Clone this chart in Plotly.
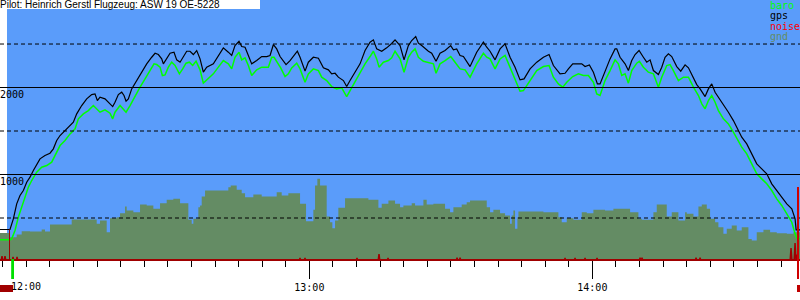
import pandas as pd
import plotly.graph_objects as go

BASE = pd.Timestamp("2000-01-01 12:00:00")

# ---------------- data (minutes after 12:00, metres) ----------------
gps_t = [-5.58, -3.46, -2.75, -2.04, -1.34, -0.63, 0.08, 0.78, 1.49, 2.20, 2.90, 3.96, 5.02, 5.73, 6.44, 7.15,
         8.20, 9.27, 9.97, 10.68, 11.74, 12.80, 13.86, 14.56, 15.06, 15.62, 16.68, 17.74, 18.31, 18.80, 19.51,
         20.22, 20.71, 21.14, 21.63, 22.34, 23.40, 24.46, 25.52, 26.58, 27.29, 27.99, 28.70, 29.05, 29.76, 30.47,
         31.31, 31.88, 32.59, 33.29, 34.00, 34.70, 35.41, 36.12, 36.83,
         37.53, 38.24, 39.65, 40.71, 41.77, 42.83, 43.54, 44.24, 45.09, 45.66, 46.37, 47.07, 47.78, 48.84, 49.90,
         50.96, 51.67, 52.38, 53.08, 53.79, 55.06, 55.91, 56.76, 57.46, 58.03, 59.09, 59.79, 60.85, 61.92, 62.41,
         62.98, 64.04, 64.74, 65.45, 66.15, 67.22, 67.92, 68.63, 69.69, 70.75, 71.81, 72.87, 73.58, 74.28, 75.34,
         76.40, 77.46, 78.17, 79.23,
         80.08, 80.99, 81.70, 82.55, 83.12, 83.82, 84.53, 85.24, 85.94, 86.86, 87.71, 88.77, 89.97, 90.54, 91.24,
         91.95, 92.66, 94.07, 95.48, 96.90, 97.61, 98.31, 99.37, 100.43, 101.49, 102.55, 103.61, 104.67, 105.52,
         106.79, 108.21, 109.62, 110.82, 111.74, 113.15, 114.21, 114.92, 115.84, 116.69, 117.75, 118.45, 119.37,
         120.22, 121.07, 121.63,
         122.69, 123.75, 124.81, 125.17, 125.87, 126.93, 127.64, 128.35, 129.06, 129.90, 130.82, 131.53, 132.24,
         132.94, 134.00, 134.71, 135.41, 136.12, 136.83, 137.89, 138.74, 139.66, 140.37, 141.43, 142.13, 142.84,
         143.90, 144.60, 145.31, 146.02, 146.72, 147.78, 148.84, 149.90, 150.96, 151.67, 152.73, 153.79, 154.85,
         155.91, 156.97, 158.03, 159.09, 160.15, 161.22, 162.28, 162.98, 163.20, 164.04]
gps_alt = [368, 368, 490, 663, 759, 816, 912, 969, 1046, 1122, 1180, 1218, 1245, 1295, 1391, 1448,
           1506, 1563, 1601, 1697, 1793, 1870, 1919, 1927, 1850, 1889, 1870, 1812, 1781, 1831, 1919,
           1946, 1908, 1843, 1870, 1984, 2080, 2176, 2272, 2348, 2394, 2379, 2329, 2272, 2329, 2394,
           2406, 2318, 2291, 2356, 2417, 2417, 2379, 2425, 2329,
           2176, 2233, 2272, 2368, 2456, 2406, 2368, 2482, 2532, 2471, 2463, 2368, 2272, 2310, 2356,
           2356, 2368, 2494, 2444, 2356, 2264, 2310, 2368, 2417, 2348, 2188, 2291, 2348, 2337, 2291,
           2226, 2203, 2157, 2164, 2119, 2080, 2011, 2080, 2176, 2272, 2425, 2521, 2548, 2444, 2417,
           2456, 2506, 2548, 2482,
           2318, 2482, 2540, 2586, 2509, 2482, 2444, 2417, 2394, 2302, 2394, 2425, 2482, 2433, 2444,
           2368, 2356, 2241, 2406, 2521, 2463, 2417, 2318, 2444, 2502, 2348, 2234, 2088, 2099,
           2214, 2291, 2348, 2379, 2253, 2157, 2164, 2214, 2272, 2272, 2272, 2241, 2260,
           2176, 2042, 2042,
           2195, 2329, 2444, 2444, 2348, 2272, 2195, 2310, 2379, 2425, 2348, 2291, 2318,
           2195, 2149, 2234, 2348, 2387, 2356, 2241, 2188, 2260, 2226, 2119, 2034, 1984,
           1896, 1984, 2042, 1946, 1889, 1812, 1716, 1620, 1506, 1429, 1352, 1237, 1122,
           1065, 1008, 893, 816, 739, 663, 605, 490, 364, 364]

baro_t = [-5.58, -3.46, -3.10, -2.40, -1.69, -0.98, -0.28, 0.43, 1.14, 2.20, 3.26, 4.32, 5.38, 6.08, 7.15, 8.20,
          9.27, 10.33, 11.03, 12.09, 13.15, 14.21, 14.92, 15.62, 16.68, 17.74, 18.31, 18.80, 19.87, 20.71, 21.14,
          21.99, 23.05, 24.11, 25.17, 26.23, 27.07, 27.64, 28.35, 28.84, 29.41, 30.11, 30.82, 31.53, 32.45, 33.15,
          33.86, 34.56, 35.27, 35.98, 36.83,
          37.53, 38.59, 39.65, 40.71, 41.77, 42.83, 43.54, 44.24, 45.09, 45.66, 46.37, 47.07, 47.78, 48.84, 49.90,
          51.31, 52.02, 52.52, 53.22, 53.93, 54.85, 55.55, 56.26, 57.32, 58.03, 59.09, 59.79, 60.85, 61.92, 62.62,
          63.68, 64.74, 65.80, 66.86, 67.92, 68.63, 69.69, 70.75, 71.81, 72.87, 73.58, 74.28, 74.78, 75.70, 76.76,
          77.46, 78.17, 79.23,
          80.08, 80.99, 81.70, 82.41, 83.12, 84.18, 85.24, 86.30, 86.86, 87.71, 88.77, 89.97, 90.89, 91.95, 93.01,
          94.07, 95.48, 96.90, 97.61, 98.31, 99.37, 100.43, 101.49, 102.55, 103.61, 104.67, 105.38, 106.79, 108.21,
          109.62, 110.82, 111.74, 112.80, 113.72, 114.57, 115.84, 117.04, 118.10, 119.16, 120.22, 120.93, 121.63,
          122.69, 123.75, 124.81, 125.52, 126.23, 126.93, 127.64, 128.35, 129.41, 129.97, 130.82, 131.88, 132.94,
          134.00, 134.71, 135.77, 136.47, 137.18, 138.24, 139.30, 140.37, 141.43, 142.49, 143.20, 143.90, 144.60,
          145.31, 146.02, 146.72, 147.78, 148.84, 149.90, 150.96, 151.67, 152.73, 153.79, 154.85, 155.91, 156.97,
          158.03, 159.09, 160.15, 161.22, 162.28, 162.98, 163.48, 164.04]
baro_alt = [249, 249, 260, 356, 510, 624, 739, 854, 931, 1027, 1084, 1103, 1142, 1218, 1333, 1391,
            1467, 1525, 1640, 1697, 1735, 1793, 1755, 1716, 1743, 1705, 1640, 1716, 1793, 1735, 1716,
            1793, 1908, 2004, 2099, 2203, 2272, 2264, 2234, 2138, 2145, 2234, 2291, 2253, 2157, 2214,
            2280, 2291, 2253, 2302, 2203,
            2050, 2099, 2157, 2234, 2310, 2272, 2214, 2348, 2406, 2318, 2341, 2253, 2138, 2203, 2234,
            2234, 2348, 2348, 2291, 2226, 2126, 2157, 2226, 2280, 2214, 2061, 2157, 2214, 2195, 2119,
            2080, 2011, 1984, 1996, 1896, 1965, 2061, 2157, 2272, 2356, 2417, 2329, 2234, 2291, 2310,
            2341, 2417, 2329,
            2176, 2348, 2406, 2444, 2348, 2302, 2291, 2272, 2164, 2272, 2310, 2356, 2291, 2214, 2203,
            2119, 2272, 2394, 2348, 2329, 2214, 2329, 2368, 2234, 2080, 1958, 1965, 2080, 2195,
            2241, 2253, 2119, 2042, 2004, 2061, 2126, 2157, 2138, 2138, 2061, 1927, 1908,
            2080, 2195, 2318, 2272, 2138, 2157, 2050, 2195, 2280, 2302, 2234, 2176, 2157,
            2004, 2119, 2253, 2264, 2195, 2080, 2119, 2119, 2004, 1908, 1812, 1755, 1850,
            1908, 1831, 1735, 1640, 1582, 1487, 1391, 1314, 1237, 1122, 1008, 950, 893,
            816, 720, 644, 548, 452, 318, 260, 260]

gnd_t = [-5.58, -3.60, -2.04, -0.98, 0.78, 3.26, 3.96, 5.02, 9.62, 14.92, 15.62, 17.04, 17.74, 19.16, 19.87,
         20.93, 21.28, 22.69, 24.11, 25.52, 26.93, 28.35, 29.76, 31.17, 32.59, 34.35, 35.06, 35.41, 36.47,
         36.83, 37.18, 37.89, 42.83, 43.33, 44.60, 45.66, 46.37, 48.13, 49.90, 53.08, 54.14, 55.55, 58.03,
         59.30, 60.85, 61.21, 61.70, 62.27, 63.68, 64.39, 64.88, 65.45, 66.15, 67.57, 72.52, 74.64, 75.34,
         76.76, 78.17,
         79.23, 79.94, 81.70, 82.41, 84.18, 84.88, 86.30, 88.77, 89.83, 90.54, 92.30, 93.36, 94.07, 97.61,
         98.31, 99.02, 100.43, 101.49, 102.55, 102.91, 103.26, 103.61, 104.11, 104.32, 109.62, 112.80,
         113.51, 114.57, 115.98, 117.75, 118.81, 120.22,
         121.63, 122.69, 124.46, 128.00, 129.76, 130.47, 132.94, 133.65, 135.77, 136.83, 138.24, 139.66,
         140.01, 141.43, 142.49, 143.20, 144.26, 144.96, 146.02, 146.72, 147.78, 148.49, 149.55, 150.61,
         151.67, 153.08, 153.79, 154.85, 156.27, 157.68, 159.09, 161.22, 162.63, 164.04]
gnd_alt = [329, 280, 310, 349, 345, 368, 345, 425, 483, 433, 471, 337, 498, 510, 555,
           632, 586, 567, 655, 644, 605, 670, 709, 720, 670, 479, 433, 490, 624,
           644, 747, 816, 854, 873, 824, 785, 739, 770, 747, 797, 759, 785, 663,
           464, 594, 873, 950, 873, 517, 452, 383, 471, 617, 728, 709, 617, 663,
           701, 663,
           624, 644, 670, 644, 709, 655, 663, 605, 567, 624, 655, 682, 701, 624,
           567, 594, 555, 529, 433, 529, 586, 375, 510, 575, 567, 510,
           452, 498, 479, 567, 555, 594,
           594, 586, 605, 567, 490, 479, 567, 655, 517, 567, 471, 567,
           548, 517, 632, 655, 605, 490, 452, 395, 318, 375, 414, 356,
           395, 260, 241, 337, 364, 337, 326, 318, 337, 337]

noise_t = [-5.58, -5.35, -5.15, -4.95, -4.72, -4.52, -4.32, -3.02, -2.82, -2.62, -2.17, -1.97, -1.77,
           57.82, 58.02, 58.22, 58.88, 59.08, 59.28, 69.90, 70.10, 70.30, 74.57, 74.77, 74.97, 76.48, 76.68, 76.88,
           91.11, 91.31, 91.51, 91.75, 91.95, 92.15, 114.01, 114.21, 114.41, 116.13, 116.33, 116.53,
           118.25, 118.45, 118.65, 120.79, 120.99, 121.19, 129.91, 130.11, 130.31, 130.53, 130.73,
           141.78, 141.98, 142.18, 142.63, 142.83, 143.03, 161.92, 162.12, 162.32, 162.77, 162.97,
           163.17, 163.28, 163.48, 164.04]
noise_v = [0, 0, 63, 0, 0, 63, 0, 0, 52, 0, 0, 52, 0,
           0, 40, 0, 0, 40, 0, 0, 40, 0, 0, 86, 0, 0, 40, 0,
           0, 45, 0, 0, 45, 0, 0, 40, 0, 0, 40, 0,
           0, 40, 0, 0, 40, 0, 0, 45, 0, 45, 0,
           0, 45, 0, 0, 45, 0, 0, 155, 0, 0, 213,
           0, 80, 0, 0]

takeoff_t = -3.56
landing_t = 163.6
hour_labels = ["12:00", "13:00", "14:00"]
hour_mins = [0, 60, 120]
alt_labels = ["1000", "2000"]
alt_label_vals = [1000, 2000]
solid_levels = [1000, 2000]
dashed_levels = [500, 1500, 2500]
legend_names = ["baro", "gps", "noise", "gnd"]
title_text = "Pilot: Heinrich Gerstl Flugzeug: ASW 19 OE-5228"

# ---------------- styling ----------------
BLUE = "#5a9cfa"
GND = "#648c64"
MONO = "DejaVu Sans Mono"
W, H = 800, 300
PLOT_H = 259


def T(mins):
    return [BASE + pd.Timedelta(minutes=m) for m in mins]


fig = go.Figure()
fig.add_trace(go.Scatter(x=T(gnd_t), y=gnd_alt, mode="lines", line=dict(shape="hv", width=0, color=GND),
                         fill="tozeroy", fillcolor=GND, name="gnd"))
fig.add_trace(go.Scatter(x=T(noise_t), y=noise_v, mode="lines", line=dict(width=1.5, color="#a00000"),
                         name="noise"))
fig.add_trace(go.Scatter(x=T(baro_t), y=baro_alt, mode="lines", line=dict(width=1.5, color="#00ff00"),
                         name="baro"))
fig.add_trace(go.Scatter(x=T(gps_t), y=gps_alt, mode="lines", line=dict(width=1.2, color="#000000"),
                         name="gps"))

shapes = []
# white left strip and title band (below data)
shapes.append(dict(type="rect", xref="paper", yref="paper", x0=0, x1=7 / W, y0=0, y1=1,
                   fillcolor="white", line_width=0, layer="below"))
shapes.append(dict(type="rect", xref="paper", yref="paper", x0=0, x1=260 / W, y0=1 - 9 / PLOT_H, y1=1,
                   fillcolor="white", line_width=0, layer="below"))
for lv in solid_levels:
    shapes.append(dict(type="line", xref="paper", yref="y", x0=0, x1=1, y0=lv, y1=lv,
                       line=dict(color="black", width=1)))
for lv in dashed_levels:
    shapes.append(dict(type="line", xref="paper", yref="y", x0=0, x1=1, y0=lv, y1=lv,
                       line=dict(color="black", width=1, dash="4px,3px")))
# takeoff / landing markers
to = T([takeoff_t])[0]
ld = T([landing_t])[0]
shapes.append(dict(type="line", xref="x", yref="y", x0=to, x1=to, y0=gps_alt[0], y1=0,
                   line=dict(color="#a00000", width=1)))
shapes.append(dict(type="rect", xref="x", yref="paper", x0=T([takeoff_t + 0.35])[0], x1=T([takeoff_t + 0.95])[0],
                   y0=0, y1=-20 / PLOT_H, fillcolor="#00e000", line_width=0))
shapes.append(dict(type="rect", xref="paper", yref="paper", x0=0, x1=13 / W, y0=-26 / PLOT_H, y1=-33 / PLOT_H,
                   fillcolor="#a00000", line_width=0))
shapes.append(dict(type="line", xref="x", yref="paper", x0=ld, x1=ld, y0=1 - 187 / PLOT_H, y1=-20 / PLOT_H,
                   line=dict(color="#d00000", width=2)))
shapes.append(dict(type="rect", xref="paper", yref="paper", x0=797 / W, x1=1, y0=-26 / PLOT_H, y1=-33 / PLOT_H,
                   fillcolor="#c00000", line_width=0))

annotations = []
annotations.append(dict(text=title_text, xref="paper", yref="paper", x=0, y=1, xanchor="left", yanchor="top",
                        showarrow=False, xshift=-2, yshift=3,
                        font=dict(family="Liberation Sans", size=10, color="black")))
for lab, v in zip(alt_labels, alt_label_vals):
    annotations.append(dict(text=lab, xref="paper", yref="y", x=0, y=v, xanchor="left", yanchor="top",
                            showarrow=False, xshift=-2, yshift=1,
                            font=dict(family=MONO, size=10, color="black")))
legend_colors = ["#00ff00", "#000000", "#ff0000", GND]
legend_centers = [5.5, 16, 26.5, 37]
for name, col, cy in zip(legend_names, legend_colors, legend_centers):
    annotations.append(dict(text=name, xref="paper", yref="paper", x=768 / W, y=1 - cy / PLOT_H,
                            xanchor="left", yanchor="middle", showarrow=False,
                            font=dict(family=MONO, size=10, color=col)))
annotations.append(dict(text=hour_labels[0], xref="x", yref="paper", x=T([hour_mins[0]])[0], y=-27.5 / PLOT_H,
                        xanchor="center", yanchor="middle", showarrow=False,
                        font=dict(family=MONO, size=10, color="black")))

fig.update_layout(
    width=W, height=H,
    margin=dict(l=0, r=0, t=0, b=H - PLOT_H),
    paper_bgcolor="white", plot_bgcolor=BLUE,
    showlegend=False,
    shapes=shapes, annotations=annotations,
    xaxis=dict(type="date", range=T([-5.58, 164.02]), showgrid=False, zeroline=False,
               showline=True, linecolor="#a00000", linewidth=2,
               ticks="outside", ticklen=18, tickwidth=1, tickcolor="black",
               tickvals=T(hour_mins[1:]), ticktext=hour_labels[1:],
               tickfont=dict(family=MONO, size=10, color="black"),
               minor=dict(ticks="outside", ticklen=6, tickwidth=1, tickcolor="black",
                          dtick=300000, tick0=BASE, showgrid=False)),
    yaxis=dict(range=[28.7, 3006], showgrid=False, zeroline=False, showticklabels=False, ticks=""),
)

fig.write_html("out.html")
